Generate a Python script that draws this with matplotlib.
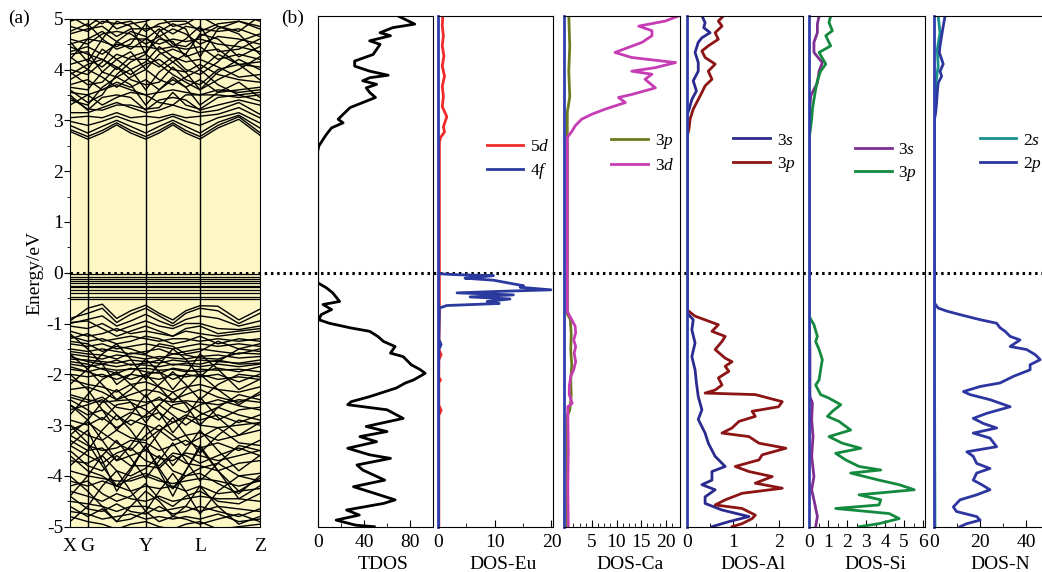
import numpy as np
import matplotlib
matplotlib.use('Agg')
import matplotlib.pyplot as plt
from matplotlib.ticker import MultipleLocator, FixedLocator

plt.rcParams['font.family'] = ['Liberation Serif', 'DejaVu Serif']
plt.rcParams['mathtext.fontset'] = 'custom'
plt.rcParams['mathtext.rm'] = 'Liberation Serif'
plt.rcParams['mathtext.it'] = 'Liberation Serif:italic'
plt.rcParams['axes.unicode_minus'] = False

# ---- (a) band structure: energies (eV) read at these k positions ----
kpos = [0.0, 0.093, 0.17, 0.246, 0.32, 0.399, 0.47, 0.542, 0.61, 0.685, 0.78, 0.89, 1.0]
sym_k = [0.0, 0.093, 0.399, 0.685, 1.0]
sym_lbl = ['X', 'G', 'Y', 'L', 'Z']

bands_cb = [
    [2.78, 2.63, 2.75, 2.91, 2.75, 2.63, 2.75, 2.91, 2.75, 2.63, 2.85, 3.02, 2.71],
    [2.82, 2.68, 2.80, 2.95, 2.80, 2.68, 2.80, 2.95, 2.80, 2.68, 2.90, 3.07, 2.76],
    [2.90, 2.75, 2.88, 3.00, 2.88, 2.75, 2.88, 3.00, 2.88, 2.75, 2.96, 3.10, 2.85],
    [2.98, 2.90, 2.98, 3.08, 2.98, 2.90, 2.98, 3.08, 2.98, 2.90, 3.05, 3.15, 2.95],
    [3.05, 3.08, 3.05, 3.15, 3.05, 3.08, 3.05, 3.12, 3.05, 3.08, 3.12, 3.25, 3.05],
    [3.15, 3.15, 3.25, 3.35, 3.25, 3.15, 3.20, 3.30, 3.22, 3.15, 3.20, 3.35, 3.12],
    [3.50, 3.20, 3.45, 3.50, 3.45, 3.20, 3.40, 3.45, 3.40, 3.20, 3.30, 3.40, 3.30],
    [3.45, 3.22, 3.20, 3.30, 3.30, 3.22, 3.25, 3.55, 3.30, 3.22, 3.45, 3.50, 3.38],
    [3.30, 3.50, 3.60, 3.70, 3.60, 3.50, 3.55, 3.60, 3.55, 3.50, 3.50, 3.45, 3.50],
    [3.55, 3.50, 3.30, 3.45, 3.55, 3.50, 3.35, 3.30, 3.50, 3.50, 3.60, 3.55, 3.60],
    [3.70, 3.80, 3.60, 3.75, 3.65, 3.80, 3.60, 3.80, 3.65, 3.80, 3.55, 3.60, 3.65],
    [3.80, 4.00, 3.85, 3.65, 3.85, 4.00, 3.80, 3.70, 3.85, 4.00, 3.70, 3.50, 3.55],
    [3.90, 4.10, 4.20, 4.05, 3.90, 4.10, 4.20, 4.00, 3.95, 4.10, 3.90, 3.80, 3.75],
    [4.10, 4.20, 4.05, 4.30, 4.20, 4.20, 4.05, 4.25, 4.15, 4.20, 4.05, 3.85, 3.90],
    [4.25, 4.00, 4.40, 4.20, 4.35, 4.00, 4.30, 4.40, 4.30, 4.00, 4.30, 4.10, 4.05],
    [4.35, 4.45, 4.30, 4.50, 4.45, 4.45, 4.40, 4.45, 4.40, 4.45, 4.20, 4.30, 4.20],
    [4.50, 4.60, 4.55, 4.45, 4.60, 4.60, 4.50, 4.60, 4.55, 4.60, 4.50, 4.45, 4.35],
    [4.60, 4.50, 4.70, 4.75, 4.70, 4.50, 4.65, 4.80, 4.70, 4.50, 4.65, 4.60, 4.50],
    [4.70, 4.80, 4.85, 4.65, 4.80, 4.80, 4.85, 4.70, 4.85, 4.80, 4.75, 4.80, 4.65],
    [4.85, 4.75, 4.95, 4.90, 4.95, 4.75, 4.90, 4.95, 4.95, 4.75, 4.90, 4.95, 4.80],
    [4.95, 5.05, 4.90, 5.10, 5.05, 5.05, 5.00, 5.10, 5.00, 5.05, 5.00, 5.10, 4.95],
    [3.60, 3.35, 3.50, 3.90, 4.15, 4.30, 4.10, 3.90, 3.75, 3.60, 3.80, 4.00, 4.25],
    [4.30, 4.35, 3.95, 3.85, 4.00, 4.15, 4.45, 4.25, 4.00, 3.90, 4.15, 4.55, 4.70],
    [4.00, 3.90, 4.15, 4.55, 4.75, 4.65, 4.35, 4.15, 4.30, 4.70, 4.60, 4.25, 4.45],
    [3.40, 3.30, 3.65, 3.85, 3.70, 3.30, 3.60, 3.85, 3.65, 3.30, 3.55, 3.75, 3.45],
    [3.65, 3.60, 3.95, 4.20, 4.00, 3.60, 3.95, 4.15, 3.95, 3.60, 3.95, 4.20, 4.00],
    [4.45, 4.30, 4.20, 4.00, 4.25, 4.35, 4.60, 4.55, 4.25, 4.35, 4.40, 4.10, 4.15],
    [4.75, 4.90, 4.60, 4.40, 4.50, 4.90, 4.65, 4.45, 4.60, 4.85, 4.35, 4.40, 4.60],
    [4.55, 4.15, 4.60, 4.95, 4.85, 4.30, 4.75, 4.90, 4.80, 4.25, 4.80, 4.95, 4.85],
    [3.95, 3.70, 3.75, 4.05, 3.80, 3.70, 3.75, 4.05, 3.80, 3.70, 4.00, 4.10, 3.80],
    [4.20, 4.60, 4.75, 4.55, 4.40, 4.60, 4.80, 4.50, 4.45, 4.65, 4.85, 4.70, 4.30],
    [5.05, 4.85, 5.05, 4.80, 4.90, 4.95, 5.05, 4.85, 4.90, 5.05, 4.85, 4.75, 5.05],
]

bands_vb = [
    [-0.95, -0.70, -0.62, -0.90, -0.75, -0.64, -0.80, -0.93, -0.75, -0.65, -0.66, -0.93, -0.72],
    [-0.90, -0.80, -0.70, -0.98, -0.82, -0.70, -0.85, -1.00, -0.80, -0.70, -0.75, -1.00, -0.80],
    [-1.00, -0.92, -0.85, -1.05, -0.95, -0.82, -0.95, -1.05, -0.92, -0.85, -0.90, -1.05, -0.95],
    [-1.05, -1.10, -1.00, -1.15, -1.05, -0.95, -1.05, -1.10, -1.00, -1.00, -1.10, -1.12, -1.05],
    [-1.15, -1.25, -1.20, -1.10, -1.20, -1.15, -1.20, -1.25, -1.15, -1.20, -1.25, -1.20, -1.15],
    [-1.30, -1.20, -1.35, -1.30, -1.25, -1.30, -1.35, -1.30, -1.30, -1.35, -1.30, -1.35, -1.30],
    [-1.40, -1.45, -1.40, -1.50, -1.45, -1.40, -1.45, -1.50, -1.45, -1.40, -1.45, -1.40, -1.45],
    [-1.50, -1.55, -1.50, -1.55, -1.60, -1.55, -1.50, -1.60, -1.55, -1.50, -1.55, -1.60, -1.50],
    [-1.60, -1.65, -1.70, -1.62, -1.65, -1.70, -1.65, -1.68, -1.70, -1.65, -1.62, -1.68, -1.65],
    [-1.70, -1.72, -1.75, -1.78, -1.72, -1.75, -1.78, -1.72, -1.75, -1.72, -1.75, -1.78, -1.72],
    [-1.80, -1.85, -1.80, -1.85, -1.80, -1.82, -1.85, -1.80, -1.82, -1.85, -1.80, -1.85, -1.80],
    [-1.90, -1.95, -1.88, -1.92, -1.90, -1.88, -1.92, -1.90, -1.95, -1.90, -1.92, -1.90, -1.95],
    [-2.00, -2.05, -2.00, -2.10, -2.00, -2.05, -2.10, -2.00, -2.05, -2.00, -2.10, -2.05, -2.10],
    [-1.20, -1.50, -1.80, -2.20, -2.00, -1.70, -1.95, -2.30, -2.00, -1.60, -1.90, -2.30, -2.10],
    [-2.20, -1.90, -1.60, -1.40, -1.70, -2.10, -1.80, -1.50, -1.70, -2.05, -1.75, -1.50, -1.55],
    [-2.30, -2.25, -2.35, -2.50, -2.40, -2.30, -2.35, -2.50, -2.40, -2.30, -2.45, -2.55, -2.40],
    [-2.40, -2.50, -2.55, -2.52, -2.50, -2.55, -2.50, -2.55, -2.52, -2.55, -2.60, -2.50, -2.55],
    [-2.50, -2.70, -2.90, -2.60, -2.55, -2.70, -2.90, -2.60, -2.55, -2.75, -2.90, -2.70, -2.65],
    [-2.70, -2.60, -2.50, -2.80, -3.00, -2.80, -2.60, -2.80, -3.00, -2.80, -2.65, -2.80, -2.90],
    [-2.90, -3.00, -2.85, -3.05, -2.90, -3.00, -3.10, -2.95, -2.85, -3.00, -3.05, -3.00, -2.95],
    [-3.00, -3.20, -3.30, -3.10, -3.25, -3.30, -3.10, -3.30, -3.20, -3.15, -3.30, -3.20, -3.10],
    [-3.20, -3.40, -3.50, -3.45, -3.30, -3.35, -3.50, -3.40, -3.30, -3.45, -3.35, -3.50, -3.30],
    [-3.30, -3.50, -3.45, -3.70, -3.60, -3.50, -3.65, -3.70, -3.55, -3.60, -3.70, -3.60, -3.50],
    [-3.50, -3.80, -3.90, -3.60, -3.80, -3.80, -3.85, -3.60, -3.75, -3.80, -3.90, -3.75, -3.70],
    [-3.70, -3.75, -3.60, -3.90, -4.00, -3.85, -3.60, -3.90, -4.00, -3.85, -3.75, -4.00, -3.95],
    [-3.90, -4.00, -4.05, -4.10, -4.10, -4.00, -4.10, -4.15, -4.10, -4.05, -4.10, -4.20, -4.10],
    [-4.10, -4.20, -4.10, -4.20, -4.30, -4.20, -4.25, -4.20, -4.30, -4.20, -4.35, -4.30, -4.25],
    [-4.30, -4.40, -4.50, -4.35, -4.45, -4.50, -4.40, -4.50, -4.45, -4.40, -4.45, -4.45, -4.50],
    [-4.50, -4.55, -4.60, -4.70, -4.60, -4.60, -4.70, -4.65, -4.60, -4.70, -4.60, -4.65, -4.70],
    [-4.70, -4.75, -4.85, -4.80, -4.75, -4.85, -4.80, -4.85, -4.80, -4.85, -4.75, -4.90, -4.85],
    [-4.80, -4.90, -4.95, -5.05, -4.95, -4.90, -5.00, -5.05, -4.95, -4.90, -5.05, -5.00, -4.95],
    [-2.60, -2.90, -3.30, -3.70, -3.40, -3.00, -3.40, -3.80, -3.50, -3.10, -3.50, -3.90, -3.60],
    [-3.80, -3.50, -3.10, -2.80, -3.10, -3.50, -3.15, -2.85, -3.20, -3.55, -3.20, -2.90, -3.00],
    [-4.00, -4.30, -4.60, -4.90, -4.60, -4.30, -4.50, -4.80, -4.60, -4.20, -4.60, -4.95, -4.80],
    [-4.90, -4.60, -4.20, -3.90, -4.30, -4.70, -4.30, -3.95, -4.30, -4.75, -4.30, -4.00, -4.10],
    [-1.60, -1.90, -2.20, -2.50, -2.30, -2.00, -2.25, -2.55, -2.30, -2.00, -2.30, -2.60, -2.35],
    [-2.80, -2.40, -2.10, -1.95, -2.20, -2.45, -2.20, -1.95, -2.20, -2.50, -2.20, -2.00, -2.05],
    [-3.40, -3.10, -3.70, -4.30, -3.90, -3.40, -3.90, -4.40, -3.90, -3.40, -3.90, -4.45, -4.20],
    [-1.25, -1.35, -1.30, -1.40, -1.35, -1.25, -1.30, -1.40, -1.35, -1.25, -1.40, -1.30, -1.35],
    [-1.35, -1.40, -1.55, -1.45, -1.50, -1.60, -1.40, -1.45, -1.60, -1.55, -1.35, -1.50, -1.40],
    [-1.55, -1.60, -1.62, -1.70, -1.58, -1.62, -1.70, -1.60, -1.62, -1.68, -1.70, -1.58, -1.60],
    [-1.65, -1.75, -1.80, -1.72, -1.82, -1.78, -1.72, -1.82, -1.78, -1.80, -1.72, -1.80, -1.78],
    [-1.75, -1.80, -1.90, -1.98, -1.88, -1.95, -1.98, -1.88, -1.92, -1.95, -1.88, -1.95, -1.85],
    [-1.85, -1.95, -2.05, -2.00, -2.10, -2.00, -1.95, -2.10, -2.00, -2.05, -2.00, -2.15, -2.00],
    [-0.98, -0.95, -1.10, -1.25, -1.15, -1.05, -1.15, -1.25, -1.10, -1.05, -1.20, -1.15, -1.10],
    [-2.10, -2.20, -2.25, -2.35, -2.20, -2.15, -2.25, -2.35, -2.25, -2.20, -2.30, -2.35, -2.25],
    [-2.45, -2.55, -2.45, -2.65, -2.70, -2.60, -2.45, -2.65, -2.75, -2.60, -2.50, -2.62, -2.70],
    [-2.60, -2.80, -2.70, -2.90, -2.75, -2.85, -2.75, -2.95, -2.80, -2.90, -2.80, -2.95, -2.80],
    [-3.10, -2.95, -3.15, -3.35, -3.50, -3.20, -3.00, -3.20, -3.40, -3.25, -3.05, -3.35, -3.40],
    [-3.40, -3.60, -3.75, -3.55, -3.45, -3.70, -3.80, -3.55, -3.60, -3.75, -3.60, -3.45, -3.60],
    [-3.60, -3.90, -4.00, -4.20, -4.05, -3.95, -4.05, -4.25, -4.00, -3.95, -4.15, -4.35, -4.00],
    [-4.20, -4.10, -4.35, -4.50, -4.40, -4.15, -4.45, -4.60, -4.40, -4.30, -4.50, -4.55, -4.35],
    [-4.40, -4.65, -4.70, -4.55, -4.70, -4.75, -4.60, -4.75, -4.70, -4.60, -4.70, -4.80, -4.65],
    [-4.60, -4.80, -4.65, -4.90, -4.85, -4.70, -4.90, -4.80, -4.85, -4.95, -4.85, -4.75, -4.90],
    [-2.00, -2.30, -2.70, -3.10, -2.80, -2.40, -2.75, -3.15, -2.85, -2.45, -2.85, -3.20, -2.95],
    [-3.20, -2.90, -2.55, -2.30, -2.55, -2.95, -2.60, -2.35, -2.60, -3.00, -2.65, -2.40, -2.50],
    [-4.40, -4.00, -3.60, -3.30, -3.65, -4.05, -3.70, -3.35, -3.70, -4.10, -3.75, -3.40, -3.50],
    [-3.00, -3.35, -3.80, -4.20, -3.85, -3.40, -3.85, -4.25, -3.90, -3.45, -3.90, -4.30, -4.05],
]

# flat Eu-4f levels just below the Fermi level
flat_4f = [-0.03, -0.08, -0.12, -0.16, -0.21, -0.26, -0.29, -0.34, -0.40, -0.47, -0.52]

# ---- (b) densities of states ----
tdos_E = [5.12, 4.93, 4.86, 4.76, 4.70, 4.60, 4.53, 4.43, 4.33, 4.20, 4.10, 4.00, 3.92, 3.87, 3.81,
          3.74, 3.67, 3.58, 3.48, 3.38, 3.28, 3.18, 3.05, 2.98, 2.88, 2.75, 2.65, 2.52, 2.42, -0.18,
          -0.28, -0.38, -0.55, -0.61, -0.71, -0.81, -0.91, -0.98, -1.07, -1.14, -1.24, -1.34, -1.44,
          -1.57, -1.64, -1.80, -1.90, -1.97, -2.10, -2.16, -2.26, -2.43, -2.53, -2.59, -2.69, -2.86,
          -3.02, -3.12, -3.22, -3.32, -3.45, -3.58, -3.65, -3.78, -3.88, -4.08, -4.21, -4.31, -4.47,
          -4.54, -4.67, -4.77, -4.87, -4.97, -5.0]
tdos = [67, 84, 65, 54, 63, 45, 54, 51, 48, 32, 32, 45, 61, 45, 39, 51, 42, 45, 50, 39, 28, 23.5,
        17.7, 22, 12, 7.5, 4.6, 1, 0, 0, 7.5, 13, 19, 4.6, 12, 3, 1, 10, 28, 45, 52, 57, 67, 63, 74,
        81, 89, 93, 83, 76, 68, 45, 29, 26, 60, 74, 42, 60, 36.5, 51, 26, 45, 63, 34, 39, 58, 31, 45,
        67, 57, 25, 36, 16, 33, 49]

eu5d_E = [5.1, 4.9, 4.7, 4.5, 4.3, 4.1, 3.9, 3.7, 3.5, 3.3, 3.1, 2.9, 2.8, 2.69, 2.6, 0.0, -0.7,
          -1.5, -1.6, -1.7, -2.05, -2.1, -2.15, -2.6, -2.7, -2.8, -5.0]
eu5d = [0.9, 0.8, 1.0, 0.8, 1.1, 0.8, 1.2, 0.8, 1.0, 0.8, 1.6, 1.0, 1.2, 0.5, 0.3, 0.3, 0.3,
        0.2, 0.6, 0.2, 0.2, 0.5, 0.2, 0.2, 0.6, 0.2, 0.2]
eu4f_E = [5.1, 0.0, -0.02, -0.04, -0.07, -0.09, -0.13, -0.18, -0.24, -0.27, -0.32, -0.35, -0.38,
          -0.42, -0.46, -0.50, -0.55, -0.59, -0.63, -0.68, -1.3, -1.4, -1.5, -2.5, -5.0]
eu4f = [0, 0, 3.0, 9.8, 7.0, 4.8, 9.8, 12.2, 15.1, 14.5, 19.9, 11.0, 3.4, 13.3, 5.7, 12.7, 8.7,
        10.8, 1.6, 0.3, 0.2, 0.6, 0.2, 0.1, 0.1]

ca3p_E = [5.1, 4.5, 4.0, 3.5, 3.3, 3.2, -0.8, -0.9, -1.2, -1.5, -1.8, -2.1, -2.4, -2.7, -2.8, -5.0]
ca3p = [0.3, 0.5, 0.3, 0.5, 0.2, 0, 0, 0.6, 0.8, 0.7, 0.9, 0.7, 0.8, 0.5, 0, 0]
ca3d_E = [5.09, 4.99, 4.89, 4.80, 4.70, 4.57, 4.37, 4.27, 4.17, 4.07, 4.00, 3.94, 3.84, 3.67, 3.54,
          3.48, 3.38, 3.25, 3.15, 3.05, 2.92, 2.82, 2.69, 2.59, -0.75, -0.91, -1.04, -1.17, -1.31,
          -1.44, -1.57, -1.74, -1.90, -2.03, -2.23, -2.39, -2.56, -2.63, -2.72, -3.5, -4.2, -5.0]
ca3d = [22.6, 19.9, 14.5, 17.2, 17.2, 15.2, 9.7, 13.1, 22, 17.9, 13.1, 17.2, 15.8, 17.9, 13.1,
        10.4, 11.8, 7.7, 5.0, 2.9, 1.6, 1.0, 0, 0, 0, 0.9, 1.6, 1.7, 1.3, 1.7, 1.4, 1.7, 1.3, 0.7,
        0.4, 0.4, 1.0, 0.1, 0.1, 0.2, 0.1, 0.2]

al3s_E = [5.09, 4.96, 4.86, 4.76, 4.66, 4.57, 4.37, 4.17, 4.00, 3.81, 3.61, 3.44, 3.25, 3.15, -0.78,
          -0.91, -1.11, -1.37, -1.64, -1.90, -2.16, -2.43, -2.69, -2.88, -3.15, -3.35, -3.61, -3.81,
          -3.91, -4.08, -4.17, -4.27, -4.41, -4.54, -4.67, -4.80, -4.90, -5.0]
al3s = [0.32, 0.39, 0.36, 0.5, 0.32, 0.24, 0.17, 0.24, 0.24, 0.13, 0.20, 0.10, 0.04, 0, 0, 0.13,
        0.10, 0.17, 0.10, 0.17, 0.20, 0.24, 0.32, 0.24, 0.39, 0.46, 0.61, 0.83, 0.54, 0.54, 0.32,
        0.61, 0.39, 0.39, 0.76, 1.35, 0.91, 0.54]
al3p_E = [5.09, 4.99, 4.89, 4.76, 4.63, 4.50, 4.40, 4.27, 4.14, 4.00, 3.84, 3.71, 3.58, 3.44, 3.25,
          3.05, 2.88, 2.72, -0.72, -0.84, -1.01, -1.14, -1.24, -1.34, -1.50, -1.67, -1.74, -1.83,
          -1.93, -2.06, -2.20, -2.30, -2.36, -2.39, -2.53, -2.63, -2.72, -2.82, -2.92, -3.05, -3.15,
          -3.22, -3.35, -3.45, -3.58, -3.68, -3.81, -3.91, -4.01, -4.14, -4.24, -4.34, -4.47, -4.57,
          -4.64, -4.77, -4.84, -4.94, -5.0]
al3p = [0.79, 0.68, 0.76, 0.61, 0.68, 0.46, 0.32, 0.39, 0.61, 0.46, 0.54, 0.39, 0.32, 0.24, 0.13,
        0.06, 0.04, 0, 0, 0.17, 0.68, 0.54, 0.83, 0.76, 0.61, 0.83, 0.98, 0.83, 0.91, 0.68, 0.76,
        0.61, 0.39, 1.49, 2.08, 2.0, 1.42, 1.49, 1.13, 0.98, 0.76, 1.35, 1.57, 2.16, 1.64, 1.57,
        1.05, 1.35, 1.86, 1.49, 2.08, 1.20, 0.83, 0.61, 1.20, 1.49, 1.42, 1.2, 0.98]

si3s_E = [5.09, 4.93, 4.76, 4.57, 4.37, 4.17, 4.00, 3.77, 3.64, 3.51, 3.25, 3.11, -0.8, -1.5, -2.43,
          -2.56, -2.88, -3.22, -3.61, -4.01, -4.27, -4.54, -4.80, -5.0]
si3s = [0.53, 0.44, 0.44, 0.26, 0.26, 0.70, 0.53, 0.44, 0.26, 0.09, 0.04, 0, 0, 0.05, 0.05, 0.18,
        0.14, 0.21, 0.14, 0.26, 0.14, 0.30, 0.44, 0.35]
si3p_E = [5.09, 4.96, 4.80, 4.70, 4.50, 4.37, 4.14, 4.00, 3.81, 3.64, 3.44, 3.25, 3.05, 2.78, 2.72,
          -0.84, -1.01, -1.24, -1.34, -1.50, -1.70, -1.90, -2.10, -2.20, -2.39, -2.46, -2.59, -2.72,
          -2.82, -2.92, -3.09, -3.22, -3.35, -3.45, -3.55, -3.68, -3.81, -3.88, -3.94, -4.08, -4.17,
          -4.27, -4.37, -4.47, -4.57, -4.64, -4.74, -4.84, -4.94, -5.0]
si3p = [1.14, 1.05, 1.23, 0.88, 1.14, 0.53, 0.88, 0.61, 0.44, 0.35, 0.26, 0.18, 0.14, 0.05, 0, 0,
        0.26, 0.44, 0.35, 0.53, 0.70, 0.61, 0.53, 0.35, 0.61, 1.05, 1.67, 1.23, 0.97, 1.58, 2.19,
        1.05, 1.75, 2.72, 1.40, 1.93, 2.63, 3.77, 2.19, 3.68, 4.74, 5.53, 2.63, 3.77, 3.68, 1.40,
        4.21, 4.74, 3.68, 2.63]

n2s_E = [5.09, 4.76, 4.43, 4.10, 3.77, 3.44, 3.18, -0.6, -5.0]
n2s = [1.7, 2.5, 1.3, 1.7, 0.7, 0.3, 0, 0, 0.3]
n2p_E = [5.09, 4.89, 4.70, 4.50, 4.37, 4.14, 4.00, 3.90, 3.77, 3.58, 3.38, 3.18, 3.05, -0.58, -0.68,
         -0.74, -0.81, -0.91, -0.98, -1.07, -1.14, -1.24, -1.31, -1.44, -1.50, -1.60, -1.70, -1.80,
         -1.90, -2.03, -2.16, -2.23, -2.33, -2.39, -2.49, -2.63, -2.76, -2.86, -2.96, -3.05, -3.15,
         -3.25, -3.42, -3.52, -3.61, -3.75, -3.85, -3.94, -4.08, -4.17, -4.27, -4.37, -4.47, -4.61,
         -4.70, -4.80, -4.87, -4.94, -5.0]
n2p = [4.7, 3.9, 3.2, 2.5, 2.2, 3.9, 2.5, 3.2, 1.7, 1.3, 1.0, 0.6, 0.1, 0, 1.7, 5.4, 11.2, 20.0,
       27.2, 28.7, 30.9, 33.1, 37.4, 33.1, 40.3, 44.0, 46.2, 41.8, 41.8, 34.5, 28.7, 20.0, 12.7, 15.6,
       24.3, 33.1, 22.9, 17.0, 21.4, 27.2, 17.0, 24.3, 27.2, 14.2, 17.0, 18.5, 24.3, 18.5, 17.0, 20.7,
       24.3, 18.5, 11.2, 8.3, 9.7, 18.5, 20.0, 14.2, 11.2]

# panel specs: label, xlim, major ticks, minor ticks, curves (E, dos, name, colour)
panels = [
    ('TDOS', (0, 100), [0, 40, 80], [20, 60], [(tdos_E, tdos, None, 'black')]),
    ('DOS-Eu', (0, 20.3), [0, 10, 20], [5, 15],
     [(eu5d_E, eu5d, '5$\\mathit{d}$', '#f02a2a'), (eu4f_E, eu4f, '4$\\mathit{f}$', '#2b3a9e')]),
    ('DOS-Ca', (-0.67, 22.8), [5, 10, 15, 20], list(np.arange(1.25, 22.5, 1.25)),
     [(ca3p_E, ca3p, '3$\\mathit{p}$', '#6d7b1e'), (ca3d_E, ca3d, '3$\\mathit{d}$', '#c63cb4')]),
    ('DOS-Al', (0, 2.53), [0, 1, 2], [0.5, 1.5],
     [(al3s_E, al3s, '3$\\mathit{s}$', '#2b2b8f'), (al3p_E, al3p, '3$\\mathit{p}$', '#8c1414')]),
    ('DOS-Si', (0, 6.07), [0, 1, 2, 3, 4, 5, 6], [0.5, 1.5, 2.5, 3.5, 4.5, 5.5],
     [(si3s_E, si3s, '3$\\mathit{s}$', '#7e2f92'), (si3p_E, si3p, '3$\\mathit{p}$', '#138a3e')]),
    ('DOS-N', (0, 50.4), [0, 20, 40], [10, 30],
     [(n2s_E, n2s, '2$\\mathit{s}$', '#17908e'), (n2p_E, n2p, '2$\\mathit{p}$', '#2d36a0')]),
]
panel_left = [317.7, 437.7, 564.0, 687.3, 809.0, 934.3]
legend_anchor = [None, (0.424, 0.717), (0.409, 0.731), (0.397, 0.731), (0.399, 0.713), (0.396, 0.731)]

W, H = 1042, 572
fig = plt.figure(figsize=(W / 100, H / 100), dpi=100)

# ---- band structure panel ----
axb = fig.add_axes([70 / W, 1 - 526.7 / H, 189.7 / W, 508 / H])
axb.set_facecolor('#fcf7c5')
for e in bands_cb + bands_vb:
    axb.plot(kpos, e, color='black', lw=1.0)
for lev in flat_4f:
    axb.axhline(lev, color='black', lw=0.9)
for k in sym_k[1:-1]:
    axb.axvline(k, color='black', lw=1.0)
axb.set_xlim(0, 1)
axb.set_ylim(-5, 5)
axb.set_xticks(sym_k)
axb.set_xticklabels(sym_lbl)
axb.tick_params(axis='x', length=0, pad=8, labelsize=14)
axb.yaxis.set_major_locator(MultipleLocator(1))
axb.yaxis.set_minor_locator(MultipleLocator(0.5))
axb.tick_params(axis='y', which='major', direction='out', length=4, pad=1, labelsize=14)
axb.tick_params(axis='y', which='minor', direction='out', length=2.5)
axb.set_ylabel('Energy/eV', fontsize=14, labelpad=2)
# Fermi level, dotted across the whole figure
axb.axhline(0, xmin=0, xmax=(W - 70) / 189.7, color='black', lw=2.2,
            ls=(0, (0.8, 1.25)), clip_on=False, zorder=5)

# ---- DOS panels ----
for i, (name, xl, maj, mnr, curves) in enumerate(panels):
    ax = fig.add_axes([panel_left[i] / W, 1 - 526.7 / H, 115.5 / W, 511.2 / H])
    ax.set_facecolor('none')
    for E, d, lab, col in curves:
        ax.plot(d, E, color=col, lw=2.0, label=lab)
    ax.set_xlim(*xl)
    ax.set_ylim(-5, 5.1)
    ax.set_yticks([])
    ax.xaxis.set_major_locator(FixedLocator(maj))
    ax.xaxis.set_minor_locator(FixedLocator(mnr))
    ax.tick_params(axis='x', which='major', direction='in', length=5, pad=5, labelsize=14)
    ax.tick_params(axis='x', which='minor', direction='in', length=3)
    ax.set_xlabel(name, fontsize=14)
    ax.xaxis.set_label_coords(0.57, -0.058)
    if i > 0:
        ax.spines['left'].set_color('#2f3fae')
        ax.spines['left'].set_linewidth(2.0)
        ax.legend(loc='center left', bbox_to_anchor=legend_anchor[i], frameon=False,
                  fontsize=12.5, handlelength=2.1, handletextpad=0.4, borderaxespad=0,
                  borderpad=0, labelspacing=0.35)

fig.text(8 / W, 1 - 18 / H, '(a)', fontsize=14, va='center', ha='left')
fig.text(281 / W, 1 - 18 / H, '(b)', fontsize=14, va='center', ha='left')

fig.savefig('out.png', dpi=100)
